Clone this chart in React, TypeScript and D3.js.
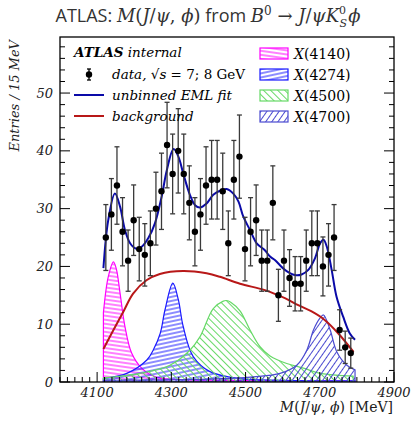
import * as d3 from 'd3'

// M(J/psi, phi) spectrum: binned data, EML fit, background and four X states.

const W = 413
const H = 423

const BIN_LO = 4116
const BIN_W = 15
const COUNTS = [25, 29, 34, 26, 21, 28, 23, 22, 24, 30, 33, 41, 36, 40, 36, 31, 26, 29, 34, 35, 35, 33, 24, 35, 39, 23, 26, 28, 21, 21, 31, 15, 21, 18, 17, 17, 21, 24, 24, 20, 22, 25, 9, 6, 5]
const ERRORS = [5.7, 6.2, 6.7, 5.9, 5.3, 6.1, 5.5, 5.4, 5.6, 6.3, 6.6, 7.4, 6.9, 7.3, 6.9, 6.4, 5.9, 6.2, 6.7, 6.8, 6.8, 6.6, 5.6, 6.8, 7.2, 5.5, 5.9, 6.1, 5.3, 5.3, 6.4, 4.5, 5.3, 4.9, 4.7, 4.7, 5.3, 5.6, 5.6, 5.1, 5.4, 5.7, 3.5, 2.8, 2.6]

const FIT_M = [4117, 4130, 4148, 4162, 4175, 4189, 4204, 4220, 4238, 4256, 4274, 4288, 4306, 4319, 4332, 4350, 4364, 4377, 4395, 4413, 4431, 4449, 4467, 4481, 4494, 4512, 4530, 4552, 4566, 4579, 4606, 4633, 4651, 4669, 4687, 4701, 4710, 4719, 4732, 4745, 4763, 4781, 4795]
const FIT_Y = [19.7, 28, 32.6, 30.3, 26.3, 24, 23.1, 23.4, 24.9, 27.5, 32.1, 36.7, 40.3, 39, 36.1, 32.4, 30.6, 30.2, 30.9, 32.4, 33.1, 33.4, 32.6, 31.2, 28.6, 26.3, 24, 22.8, 21.7, 21.1, 19.4, 18.5, 18.6, 19.4, 21.4, 24, 24.6, 23.4, 19.4, 14.8, 11.3, 8.4, 7.3]

const BKG_M = [4117, 4144, 4171, 4197, 4233, 4269, 4332, 4395, 4431, 4485, 4552, 4606, 4642, 4678, 4714, 4750, 4791]
const BKG_Y = [5.7, 9, 12.2, 15.3, 17.6, 18.7, 19.2, 18.8, 18.2, 17, 15.9, 14.5, 13.3, 12.2, 10.7, 8.4, 5.2]

const X4140_M = [4117, 4130, 4144, 4152, 4162, 4175, 4193, 4220, 4261, 4350, 4500, 4795]
const X4140_Y = [12, 18.2, 20.8, 19.5, 15.3, 9.6, 5, 2.4, 0.8, 0.4, 0.25, 0.15]
const X4274_M = [4117, 4180, 4234, 4251, 4270, 4283, 4304, 4319, 4332, 4359, 4404, 4485, 4600, 4795]
const X4274_Y = [0.6, 1.5, 3.8, 5.5, 8.4, 12.5, 17.1, 14.2, 9.6, 4.4, 1.8, 0.6, 0.3, 0.2]
const X4500_M = [4117, 4216, 4296, 4350, 4377, 4413, 4440, 4449, 4460, 4485, 4512, 4539, 4566, 4611, 4656, 4701, 4790]
const X4500_Y = [0.7, 1.5, 2.9, 5.5, 7.8, 12.7, 14, 14.1, 13.8, 12.3, 9, 6.1, 4.5, 3.2, 2.4, 1.5, 1]
const X4700_M = [4117, 4400, 4521, 4593, 4638, 4665, 4683, 4700, 4710, 4728, 4746, 4773, 4795]
const X4700_Y = [0.3, 0.5, 0.9, 1.5, 2.9, 5.5, 9, 11, 11.6, 9, 5.2, 2.9, 2.1]

const STATES = ['X(4140)', 'X(4274)', 'X(4500)', 'X(4700)']
const STATE_COLORS = ['#ff00ff', '#1a1aff', '#66d966', '#4a4ad0']
const STATE_ANGLES = [8, -12, 45, -55]
const STATE_GAPS = [4, 4, 5, 5]

const X_TICKS = [4100, 4300, 4500, 4700, 4900]
const Y_TICKS = [0, 10, 20, 30, 40, 50]

const SERIF = '"DejaVu Serif", serif'
const SANS = '"Open Sans", "DejaVu Sans", sans-serif'

const zip = (m: number[], v: number[]) => m.map((d, i) => [d, v[i]] as [number, number])

export default function App() {
  const m = { left: 60, right: 394, top: 37, bottom: 382 }
  const x = d3.scaleLinear().domain([4000, 4900]).range([m.left, m.right])
  const y = d3.scaleLinear().domain([0, 59.7]).range([m.bottom, m.top])

  const curve = d3
    .line<[number, number]>()
    .x((d) => x(d[0]))
    .y((d) => y(d[1]))
    .curve(d3.curveCatmullRom.alpha(0.5))
  const area = d3
    .area<[number, number]>()
    .x((d) => x(d[0]))
    .y0(y(0))
    .y1((d) => y(d[1]))
    .curve(d3.curveCatmullRom.alpha(0.5))

  const states = [
    zip(X4140_M, X4140_Y),
    zip(X4274_M, X4274_Y),
    zip(X4500_M, X4500_Y),
    zip(X4700_M, X4700_Y),
  ]

  const xMinor = d3.range(4000, 4901, 20)
  const yMinor = d3.range(0, 59, 2)

  return (
    <svg width={W} height={H} style={{ position: 'absolute', left: 0, top: 0 }}>
      <defs>
        {STATES.map((s, i) => (
          <pattern
            key={s}
            id={`hatch${i}`}
            patternUnits="userSpaceOnUse"
            width={10}
            height={STATE_GAPS[i]}
            patternTransform={`rotate(${STATE_ANGLES[i]})`}
          >
            <line x1={0} x2={10} y1={STATE_GAPS[i] / 2} y2={STATE_GAPS[i] / 2} stroke={STATE_COLORS[i]} strokeWidth={1} />
          </pattern>
        ))}
        <clipPath id="plot">
          <rect x={m.left} y={m.top} width={m.right - m.left} height={m.bottom - m.top} />
        </clipPath>
      </defs>
      <rect width={W} height={H} fill="#fff" />

      {/* title */}
      <text x={208} y={22} textAnchor="middle" fontSize={18} fill="#333" fontFamily={SERIF}>
        <tspan fontFamily={SANS}>ATLAS: </tspan>
        <tspan fontStyle="italic">M</tspan>(<tspan fontStyle="italic">J</tspan>/<tspan fontStyle="italic">ψ</tspan>,{' '}
        <tspan fontStyle="italic">ϕ</tspan>)<tspan fontFamily={SANS}> from </tspan>
        <tspan fontStyle="italic">B</tspan>
        <tspan dy={-7} fontSize={12}>0</tspan>
        <tspan dy={7}> → </tspan>
        <tspan fontStyle="italic">J</tspan>/<tspan fontStyle="italic">ψK</tspan>
        <tspan dy={-8} fontSize={11}>0</tspan>
        <tspan dx={-6.5} dy={13} fontSize={11} fontStyle="italic">S</tspan>
        <tspan dx={1} dy={-5} fontStyle="italic">ϕ</tspan>
      </text>

      <g clipPath="url(#plot)">
        {states.map((s, i) => (
          <g key={STATES[i]}>
            <path d={area(s) ?? ''} fill={`url(#hatch${i})`} />
            <path d={area(s) ?? ''} fill="none" stroke={STATE_COLORS[i]} strokeWidth={1.2} />
          </g>
        ))}
        <path d={curve(zip(BKG_M, BKG_Y)) ?? ''} fill="none" stroke="#b81818" strokeWidth={2} />
        <path d={curve(zip(FIT_M, FIT_Y)) ?? ''} fill="none" stroke="#0a0aa8" strokeWidth={2} />
        {COUNTS.map((c, i) => {
          const cx = x(BIN_LO + BIN_W * (i + 0.5))
          const lo = y(c - ERRORS[i])
          const hi = y(c + ERRORS[i])
          return (
            <g key={i}>
              <line x1={cx} x2={cx} y1={lo} y2={hi} stroke="#3a3a3a" strokeWidth={1.3} />
              <line x1={cx - 2.5} x2={cx + 2.5} y1={lo} y2={lo} stroke="#3a3a3a" strokeWidth={1.3} />
              <line x1={cx - 2.5} x2={cx + 2.5} y1={hi} y2={hi} stroke="#3a3a3a" strokeWidth={1.3} />
              <circle cx={cx} cy={y(c)} r={3.2} fill="#000" />
            </g>
          )
        })}
      </g>

      {/* frame and ticks */}
      <rect x={m.left} y={m.top} width={m.right - m.left} height={m.bottom - m.top} fill="none" stroke="#000" strokeWidth={1.3} />
      {xMinor.map((t) => (
        <line key={t} x1={x(t)} x2={x(t)} y1={m.bottom} y2={m.bottom - (X_TICKS.includes(t) ? 10 : 5)} stroke="#000" />
      ))}
      {yMinor.map((t) => {
        const len = Y_TICKS.includes(t) ? 10 : 5
        return (
          <g key={t}>
            <line x1={m.left} x2={m.left + len} y1={y(t)} y2={y(t)} stroke="#000" />
            <line x1={m.right} x2={m.right - len} y1={y(t)} y2={y(t)} stroke="#000" />
          </g>
        )
      })}
      {X_TICKS.map((t) => (
        <text key={t} x={x(t)} y={397} textAnchor="middle" fontSize={13} fontStyle="italic" fontFamily={SERIF} fill="#222">
          {t}
        </text>
      ))}
      {Y_TICKS.map((t) => (
        <text key={t} x={53} y={y(t) + 4.5} textAnchor="end" fontSize={13} fontStyle="italic" fontFamily={SERIF} fill="#222">
          {t}
        </text>
      ))}
      <text
        transform={`translate(19, 40) rotate(-90)`}
        textAnchor="end"
        fontSize={13}
        fontStyle="italic"
        fontFamily={SERIF}
        fill="#222"
      >
        Entries / 15 MeV
      </text>
      <text x={393} y={412} textAnchor="end" fontSize={14} fontFamily={SERIF} fill="#222">
        <tspan fontStyle="italic">M</tspan>(<tspan fontStyle="italic">J</tspan>/<tspan fontStyle="italic">ψ</tspan>,{' '}
        <tspan fontStyle="italic">ϕ</tspan>) [MeV]
      </text>

      {/* left legend */}
      <text x={74} y={57} fontSize={13.5} fontFamily={SERIF} fontStyle="italic" fill="#000">
        <tspan fontWeight="bold">ATLAS</tspan> internal
      </text>
      <line x1={89} x2={89} y1={69} y2={80} stroke="#000" strokeWidth={1.3} />
      <line x1={87} x2={91} y1={69} y2={69} stroke="#000" strokeWidth={1.3} />
      <line x1={87} x2={91} y1={80} y2={80} stroke="#000" strokeWidth={1.3} />
      <circle cx={89} cy={74.5} r={3.2} fill="#000" />
      <text x={112} y={79} fontSize={13.5} fontFamily={SERIF} fill="#000">
        <tspan fontStyle="italic">data,</tspan> √<tspan fontStyle="italic">s</tspan> = 7; 8 GeV
      </text>
      <line x1={74} x2={104} y1={95} y2={95} stroke="#0a0aa8" strokeWidth={2} />
      <text x={112} y={100} fontSize={13.5} fontFamily={SERIF} fontStyle="italic" fill="#000">
        unbinned EML fit
      </text>
      <line x1={74} x2={104} y1={116} y2={116} stroke="#b81818" strokeWidth={2} />
      <text x={112} y={121} fontSize={13.5} fontFamily={SERIF} fontStyle="italic" fill="#000">
        background
      </text>

      {/* right legend */}
      {STATES.map((s, i) => {
        const cy = 53.5 + i * 21
        const name = s.slice(1)
        return (
          <g key={s}>
            <rect x={260} y={cy - 5.5} width={28} height={11} fill={`url(#hatch${i})`} stroke={STATE_COLORS[i]} strokeWidth={1.2} />
            <text x={294} y={cy + 5} fontSize={14} fontFamily={SERIF} fill="#000">
              <tspan fontStyle="italic">X</tspan>
              {name}
            </text>
          </g>
        )
      })}
    </svg>
  )
}
